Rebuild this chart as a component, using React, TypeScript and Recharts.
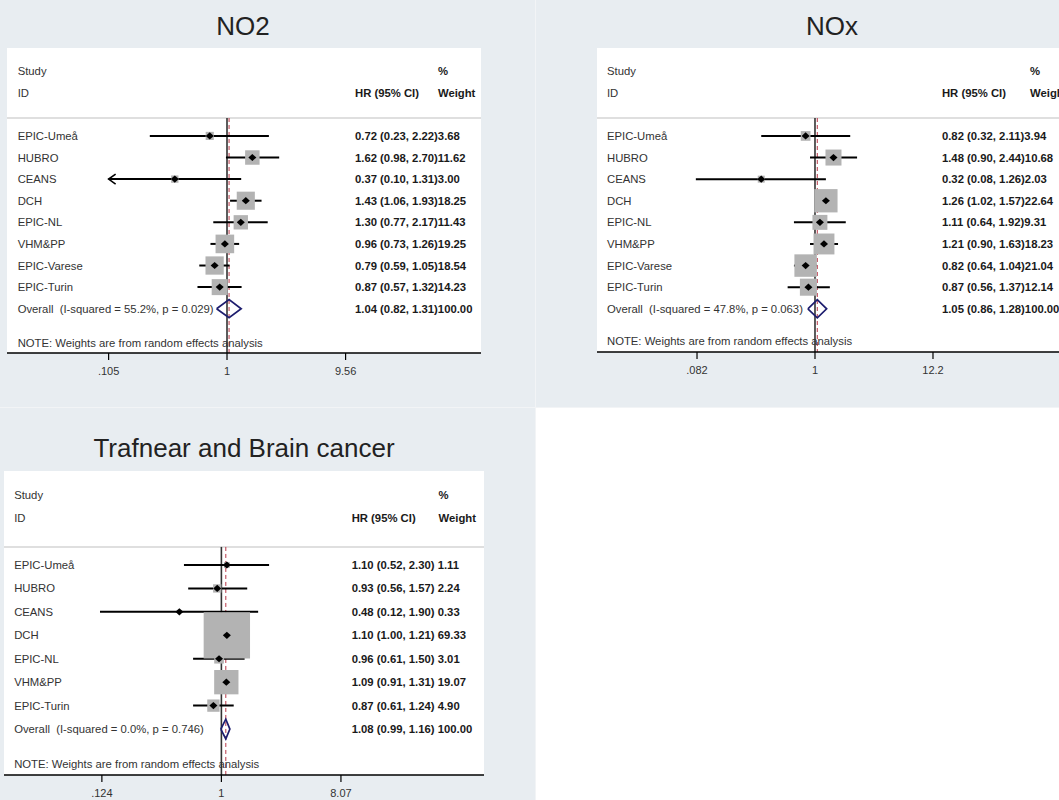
import React from 'react';
import {
  ComposedChart,
  Scatter,
  Line,
  XAxis,
  YAxis,
  ZAxis,
  ErrorBar,
  ReferenceLine,
  CartesianGrid
} from 'recharts';

const FONT = '"Liberation Sans", Arial, Helvetica, sans-serif';
const BG = '#e8edf1';

// ---- NO2 ----
const no2Studies = ['EPIC-Umeå', 'HUBRO', 'CEANS', 'DCH', 'EPIC-NL', 'VHM&PP', 'EPIC-Varese', 'EPIC-Turin'];
const no2Hr = [0.72, 1.62, 0.37, 1.43, 1.3, 0.96, 0.79, 0.87];
const no2Lo = [0.23, 0.98, 0.1, 1.06, 0.77, 0.73, 0.59, 0.57];
const no2Hi = [2.22, 2.7, 1.31, 1.93, 2.17, 1.26, 1.05, 1.32];
const no2Weight = [3.68, 11.62, 3.0, 18.25, 11.43, 19.25, 18.54, 14.23];
const no2Overall = [1.04, 0.82, 1.31];
const no2Het = ['55.2%', '0.029'];
const no2Ticks = [0.105, 1, 9.56];
const no2TickLabels = ['.105', '1', '9.56'];

// ---- NOx ----
const noxStudies = ['EPIC-Umeå', 'HUBRO', 'CEANS', 'DCH', 'EPIC-NL', 'VHM&PP', 'EPIC-Varese', 'EPIC-Turin'];
const noxHr = [0.82, 1.48, 0.32, 1.26, 1.11, 1.21, 0.82, 0.87];
const noxLo = [0.32, 0.9, 0.08, 1.02, 0.64, 0.9, 0.64, 0.56];
const noxHi = [2.11, 2.44, 1.26, 1.57, 1.92, 1.63, 1.04, 1.37];
const noxWeight = [3.94, 10.68, 2.03, 22.64, 9.31, 18.23, 21.04, 12.14];
const noxOverall = [1.05, 0.86, 1.28];
const noxHet = ['47.8%', '0.063'];
const noxTicks = [0.082, 1, 12.2];
const noxTickLabels = ['.082', '1', '12.2'];

// ---- Trafnear ----
const trafStudies = ['EPIC-Umeå', 'HUBRO', 'CEANS', 'DCH', 'EPIC-NL', 'VHM&PP', 'EPIC-Turin'];
const trafHr = [1.1, 0.93, 0.48, 1.1, 0.96, 1.09, 0.87];
const trafLo = [0.52, 0.56, 0.12, 1.0, 0.61, 0.91, 0.61];
const trafHi = [2.3, 1.57, 1.9, 1.21, 1.5, 1.31, 1.24];
const trafWeight = [1.11, 2.24, 0.33, 69.33, 3.01, 19.07, 4.9];
const trafOverall = [1.08, 0.99, 1.16];
const trafHet = ['0.0%', '0.746'];
const trafTicks = [0.124, 1, 8.07];
const trafTickLabels = ['.124', '1', '8.07'];

type Panel = {
  title: string;
  studies: string[];
  hr: number[];
  lo: number[];
  hi: number[];
  weight: number[];
  overall: number[];
  het: string[];
  ticks: number[];
  tickLabels: string[];
  arrows: string[];
  gap: string;
  left: number;
  top: number;
  boxW: number;
  boxH: number;
  chartW: number;
  margin: { top: number; right: number; bottom: number; left: number };
  axisH: number;
  titleX: number;
  titleY: number;
  xDomain: number[];
  yDomain: number[];
  labelX: number;
  hrX: number;
  wX: number;
  sepY: number;
  noteY: number;
  boxScale: number;
};

const lg = Math.log10;
const f2 = (v: number) => v.toFixed(2);

function buildRows(p: Panel) {
  const minT = lg(p.ticks[0]);
  return p.studies.map((s, i) => {
    const x = lg(p.hr[i]);
    // CI running past the left end of the axis is cut there (an arrow marks it)
    const low = p.arrows.includes(s) ? minT : lg(p.lo[i]);
    return { x, y: i, w: p.weight[i], err: [x - low, lg(p.hi[i]) - x] };
  });
}

function buildTexts(p: Panel) {
  const n = p.studies.length;
  const t: { x: number; y: number; text: string; bold?: boolean }[] = [
    { x: p.labelX, y: -3, text: 'Study' },
    { x: p.labelX, y: -2, text: 'ID' },
    { x: p.hrX, y: -2, text: 'HR (95% CI)', bold: true },
    { x: p.wX, y: -3, text: '%', bold: true },
    { x: p.wX, y: -2, text: 'Weight', bold: true }
  ];
  p.studies.forEach((s, i) => {
    t.push({ x: p.labelX, y: i, text: s });
    t.push({
      x: p.hrX,
      y: i,
      text: `${f2(p.hr[i])} (${f2(p.lo[i])}, ${f2(p.hi[i])})${p.gap}${f2(p.weight[i])}`,
      bold: true
    });
  });
  const [o, ol, oh] = p.overall;
  t.push({ x: p.labelX, y: n, text: `Overall  (I-squared = ${p.het[0]}, p = ${p.het[1]})` });
  t.push({ x: p.hrX, y: n, text: `${f2(o)} (${f2(ol)}, ${f2(oh)})${p.gap}100.00`, bold: true });
  t.push({ x: p.labelX, y: p.noteY, text: 'NOTE: Weights are from random effects analysis' });
  return t;
}

function buildDiamond(p: Panel) {
  const n = p.studies.length;
  const [o, ol, oh] = p.overall.map(lg);
  const h = 0.42;
  return [
    { x: ol, y: n },
    { x: o, y: n - h },
    { x: oh, y: n },
    { x: o, y: n + h },
    { x: ol, y: n }
  ];
}

const TextMark = (props: any) => {
  const { cx, cy, payload } = props;
  return (
    <text
      x={cx}
      y={cy}
      dy="0.36em"
      fontSize={11.3}
      fontFamily={FONT}
      fontWeight={payload.bold ? 'bold' : 'normal'}
      fill={payload.bold ? '#1a1a1a' : '#333'}
      style={{ whiteSpace: 'pre' }}
    >
      {payload.text}
    </text>
  );
};

const PointMark = (props: any) => {
  const { cx, cy } = props;
  return <path d={`M${cx - 4},${cy}L${cx},${cy - 3.6}L${cx + 4},${cy}L${cx},${cy + 3.6}Z`} fill="#000" />;
};

const ArrowMark = (props: any) => {
  const { cx, cy } = props;
  return (
    <path d={`M${cx + 7},${cy - 5}L${cx},${cy}L${cx + 7},${cy + 5}`} fill="none" stroke="#000" strokeWidth={1.6} />
  );
};

function ForestPanel({ p }: { p: Panel }) {
  const rows = buildRows(p);
  const texts = buildTexts(p);
  const diamond = buildDiamond(p);
  const arrowPts = rows.filter((_, i) => p.arrows.includes(p.studies[i])).map(r => ({ x: lg(p.ticks[0]), y: r.y }));
  const bottom = p.yDomain[1];
  const ov = lg(p.overall[0]);
  const tickVals = p.ticks.map(lg);
  const fmt = (v: number) => {
    let best = 0;
    tickVals.forEach((t, i) => {
      if (Math.abs(t - v) < Math.abs(tickVals[best] - v)) best = i;
    });
    return p.tickLabels[best];
  };

  return (
    <div
      style={{
        position: 'absolute',
        left: p.left,
        top: p.top,
        width: p.boxW,
        height: p.boxH,
        background: BG,
        overflow: 'hidden'
      }}
    >
      <div
        style={{
          position: 'absolute',
          left: p.titleX - 250,
          width: 500,
          top: p.titleY - 17,
          height: 34,
          lineHeight: '34px',
          textAlign: 'center',
          fontSize: 26,
          fontFamily: FONT,
          color: '#222'
        }}
      >
        {p.title}
      </div>
      <div style={{ position: 'absolute', left: 0, top: 0 }}>
        <ComposedChart width={p.chartW} height={p.boxH} margin={p.margin}>
          <CartesianGrid horizontal={false} vertical={false} fill="#fff" stroke="none" />
          <XAxis
            type="number"
            dataKey="x"
            domain={p.xDomain}
            allowDataOverflow
            ticks={tickVals}
            tickFormatter={fmt}
            height={p.axisH}
            tickSize={7}
            tickMargin={7}
            axisLine={{ stroke: '#000', strokeWidth: 1.5 }}
            tickLine={{ stroke: '#000', strokeWidth: 1.2 }}
            tick={{ fontSize: 11, fill: '#333', fontFamily: FONT }}
          />
          <YAxis type="number" dataKey="y" domain={p.yDomain} reversed allowDataOverflow hide />
          <ZAxis dataKey="w" type="number" domain={[0, 100]} range={[0, 100 * p.boxScale]} />
          <ZAxis zAxisId="t" range={[10, 10]} />
          <ReferenceLine y={p.sepY} stroke="#d4d4d4" strokeWidth={1.5} />
          <Scatter data={rows} shape="square" fill="#b3b3b3" isAnimationActive={false} />
          <ReferenceLine
            segment={[
              { x: 0, y: p.sepY },
              { x: 0, y: bottom }
            ]}
            stroke="#333"
            strokeWidth={1.6}
          />
          <ReferenceLine
            segment={[
              { x: ov, y: p.sepY },
              { x: ov, y: bottom }
            ]}
            stroke="#b83848"
            strokeWidth={1}
            strokeDasharray="4 3"
          />
          <Line
            data={diamond}
            dataKey="y"
            type="linear"
            stroke="#1d1d6e"
            strokeWidth={1.7}
            dot={false}
            activeDot={false}
            isAnimationActive={false}
          />
          <Scatter data={rows} zAxisId="t" shape={PointMark} isAnimationActive={false}>
            <ErrorBar dataKey="err" direction="x" width={0} stroke="#000" strokeWidth={2} isAnimationActive={false} />
          </Scatter>
          <Scatter data={arrowPts} zAxisId="t" shape={ArrowMark} isAnimationActive={false} />
          <Scatter data={texts} zAxisId="t" shape={TextMark} isAnimationActive={false} />
        </ComposedChart>
      </div>
    </div>
  );
}

const no2Panel: Panel = {
  title: 'NO2',
  studies: no2Studies,
  hr: no2Hr,
  lo: no2Lo,
  hi: no2Hi,
  weight: no2Weight,
  overall: no2Overall,
  het: no2Het,
  ticks: no2Ticks,
  tickLabels: no2TickLabels,
  arrows: ['CEANS'],
  gap: '',
  left: 0,
  top: 0,
  boxW: 535,
  boxH: 407,
  chartW: 535,
  margin: { top: 48, right: 54, bottom: 24, left: 7 },
  axisH: 30,
  titleX: 243,
  titleY: 26,
  xDomain: [-1.819, 2.1],
  yDomain: [-4.07, 10.05],
  labelX: -1.731,
  hrX: 1.058,
  wX: 1.744,
  sepY: -0.83,
  noteY: 9.58,
  boxScale: 18
};

const noxPanel: Panel = {
  title: 'NOx',
  studies: noxStudies,
  hr: noxHr,
  lo: noxLo,
  hi: noxHi,
  weight: noxWeight,
  overall: noxOverall,
  het: noxHet,
  ticks: noxTicks,
  tickLabels: noxTickLabels,
  arrows: [],
  gap: '',
  left: 535,
  top: 0,
  boxW: 524,
  boxH: 407,
  chartW: 600,
  margin: { top: 48, right: 64, bottom: 25, left: 62 },
  axisH: 30,
  titleX: 297,
  titleY: 26,
  xDomain: [-2.007, 2.357],
  yDomain: [-4.07, 10.0],
  labelX: -1.915,
  hrX: 1.169,
  wX: 1.98,
  sepY: -0.83,
  noteY: 9.49,
  boxScale: 24
};

const trafPanel: Panel = {
  title: 'Trafnear and Brain cancer',
  studies: trafStudies,
  hr: trafHr,
  lo: trafLo,
  hi: trafHi,
  weight: trafWeight,
  overall: trafOverall,
  het: trafHet,
  ticks: trafTicks,
  tickLabels: trafTickLabels,
  arrows: [],
  gap: ' ',
  left: 0,
  top: 407,
  boxW: 535,
  boxH: 393,
  chartW: 535,
  margin: { top: 64, right: 51, bottom: 5, left: 4 },
  axisH: 20,
  titleX: 244,
  titleY: 41,
  xDomain: [-1.649, 1.992],
  yDomain: [-4.01, 8.96],
  labelX: -1.572,
  hrX: 0.988,
  wX: 1.647,
  sepY: -0.77,
  noteY: 8.49,
  boxScale: 31
};

export default function App() {
  return (
    <div
      style={{
        position: 'fixed',
        left: 0,
        top: 0,
        width: 1059,
        height: 800,
        background: '#fff',
        overflow: 'hidden'
      }}
    >
      <ForestPanel p={no2Panel} />
      <ForestPanel p={noxPanel} />
      <ForestPanel p={trafPanel} />
      <div style={{ position: 'absolute', left: 535, top: 0, width: 1, height: 800, background: '#f2f4f6' }} />
      <div style={{ position: 'absolute', left: 0, top: 407, width: 1059, height: 1, background: '#f2f4f6' }} />
    </div>
  );
}
